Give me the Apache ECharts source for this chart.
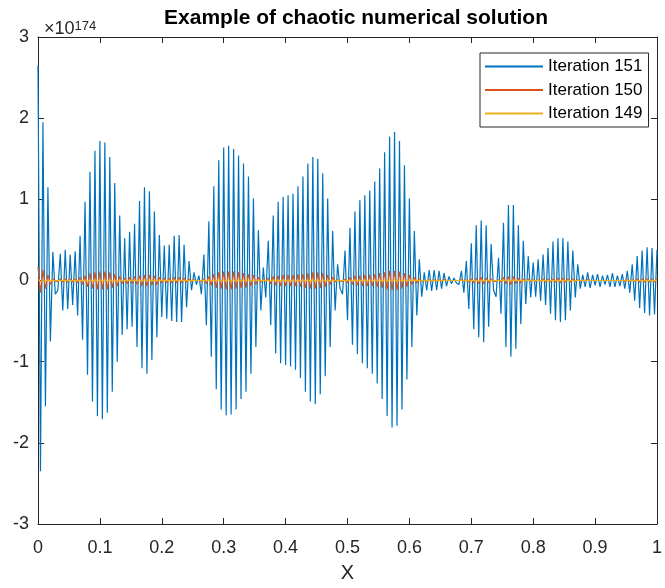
<!DOCTYPE html>
<html>
<head>
<meta charset="utf-8">
<script src="https://cdn.jsdelivr.net/npm/echarts@6/dist/echarts.min.js"></script>
<style>
html,body{margin:0;padding:0;background:#fff;}
#chart{width:665px;height:588px;}
</style>
</head>
<body>
<div id="chart"></div>
<script>
// Values in units of 1e174, sampled on a uniform grid over x in [0, 1]
var iter151 = [
 2.65,-2.35,1.95,-1.55,1.15,-0.75,0.35,-0.17,-0.12,0.33,
 -0.37,0.38,-0.35,0.32,-0.3,0.36,-0.43,0.55,-0.73,0.97,
 -1.16,1.34,-1.49,1.6,-1.67,1.72,-1.71,1.7,-1.63,1.52,
 -1.37,1.2,-1.0,0.8,-0.67,0.52,-0.6,0.6,-0.57,0.7,
 -0.82,0.98,-1.08,1.15,-1.15,1.1,-0.98,0.85,-0.7,0.56,
 -0.45,0.43,-0.47,0.44,-0.5,0.55,-0.51,0.56,-0.51,0.44,
 -0.33,0.24,-0.12,0.1,-0.05,0.06,-0.17,0.32,-0.55,0.73,
 -0.94,1.16,-1.34,1.48,-1.59,1.64,-1.66,1.66,-1.65,1.62,
 -1.59,1.54,-1.46,1.44,-1.37,1.28,-1.15,1.01,-0.82,0.62,
 -0.37,0.16,-0.21,0.49,-0.55,0.8,-0.9,0.97,-1.02,1.03,
 -1.04,1.05,-1.06,1.07,-1.1,1.16,-1.2,1.28,-1.37,1.44,
 -1.49,1.52,-1.52,1.5,-1.4,1.32,-1.18,1.01,-0.82,0.61,
 -0.37,0.2,-0.1,-0.17,0.37,-0.49,0.65,-0.79,0.85,-0.91,
 0.99,-1.02,1.05,-1.08,1.11,-1.15,1.22,-1.27,1.38,-1.46,
 1.58,-1.67,1.77,-1.81,1.83,-1.79,1.72,-1.59,1.42,-1.22,
 1.01,-0.82,0.61,-0.43,0.26,-0.2,0.1,-0.12,0.13,-0.13,
 0.13,-0.12,0.12,-0.1,0.09,-0.07,0.05,-0.04,0.03,-0.03,
 -0.05,0.12,-0.15,0.24,-0.35,0.46,-0.6,0.68,-0.7,0.74,
 -0.76,0.68,-0.57,0.45,-0.12,-0.2,0.28,-0.41,0.71,-0.82,
 0.93,-0.94,0.93,-0.84,0.68,-0.54,0.49,-0.29,0.3,-0.21,
 0.22,-0.2,0.26,-0.25,0.32,-0.3,0.4,-0.41,0.48,-0.49,
 0.52,-0.51,0.52,-0.49,0.48,-0.37,0.37,-0.21,0.2,-0.1,
 0.07,-0.08,0.1,-0.09,0.07,-0.06,0.08,-0.08,0.06,-0.05,
 0.07,-0.08,0.09,-0.08,0.06,-0.07,0.08,-0.1,0.12,-0.15,
 0.2,-0.25,0.3,-0.34,0.37,-0.4,0.41,-0.43,0.4,-0.42,0.38
];
var iter150 = [
 0.17,-0.15,0.13,-0.1,0.07,-0.05,0.02,-0.01,-0.01,0.02,
 -0.02,0.02,-0.02,0.02,-0.02,0.02,-0.03,0.04,-0.05,0.06,
 -0.08,0.09,-0.1,0.1,-0.11,0.11,-0.11,0.11,-0.11,0.1,
 -0.09,0.08,-0.07,0.05,-0.04,0.03,-0.04,0.04,-0.04,0.05,
 -0.05,0.06,-0.07,0.07,-0.07,0.07,-0.06,0.06,-0.05,0.04,
 -0.03,0.03,-0.03,0.03,-0.03,0.04,-0.03,0.04,-0.03,0.03,
 -0.02,0.02,-0.01,0.01,0,0,-0.01,0.02,-0.04,0.05,
 -0.06,0.08,-0.09,0.1,-0.1,0.11,-0.11,0.11,-0.11,0.11,
 -0.1,0.1,-0.09,0.09,-0.09,0.08,-0.07,0.07,-0.05,0.04,
 -0.02,0.01,-0.01,0.03,-0.04,0.05,-0.06,0.06,-0.07,0.07,
 -0.07,0.07,-0.07,0.07,-0.07,0.08,-0.08,0.08,-0.09,0.09,
 -0.1,0.1,-0.1,0.1,-0.09,0.09,-0.08,0.07,-0.05,0.04,
 -0.02,0.01,-0.01,-0.01,0.02,-0.03,0.04,-0.05,0.06,-0.06,
 0.06,-0.07,0.07,-0.07,0.07,-0.07,0.08,-0.08,0.09,-0.09,
 0.1,-0.11,0.12,-0.12,0.12,-0.12,0.11,-0.1,0.09,-0.08,
 0.07,-0.05,0.04,-0.03,0.02,-0.01,0.01,-0.01,0.01,-0.01,
 0.01,-0.01,0.01,-0.01,0.01,0,0,0,0,0,
 0,0.01,-0.01,0.01,-0.02,0.02,-0.03,0.03,-0.04,0.04,
 -0.04,0.03,-0.03,0.02,-0.01,-0.01,0.01,-0.02,0.04,-0.04,
 0.05,-0.05,0.05,-0.04,0.03,-0.03,0.02,-0.01,0.02,-0.01,
 0.01,-0.01,0.01,-0.01,0.02,-0.02,0.02,-0.02,0.02,-0.02,
 0.03,-0.03,0.03,-0.02,0.02,-0.02,0.02,-0.01,0.01,-0.01,
 0,0,0.01,0,0,0,0,0,0,0,
 0,0,0,0,0,0,0,-0.01,0.01,-0.01,
 0.01,-0.01,0.02,-0.02,0.02,-0.02,0.02,-0.02,0.02,-0.02,0.02
];
var iter149 = [
 0.014,-0.012,0.01,-0.008,0.006,-0.004,0.002,-0.001,-0.001,0.002,
 -0.002,0.002,-0.002,0.002,-0.002,0.002,-0.002,0.003,-0.004,0.005,
 -0.006,0.007,-0.008,0.008,-0.009,0.009,-0.009,0.009,-0.009,0.008,
 -0.007,0.006,-0.005,0.004,-0.003,0.003,-0.003,0.003,-0.003,0.004,
 -0.004,0.005,-0.006,0.006,-0.006,0.006,-0.005,0.005,-0.004,0.003,
 -0.002,0.002,-0.002,0.002,-0.002,0.003,-0.002,0.003,-0.002,0.002,
 -0.002,0.001,-0.001,0.001,0,0,-0.001,0.002,-0.003,0.004,
 -0.005,0.006,-0.007,0.008,-0.008,0.009,-0.009,0.009,-0.009,0.009,
 -0.008,0.008,-0.007,0.007,-0.007,0.006,-0.006,0.005,-0.004,0.003,
 -0.002,0.001,-0.001,0.002,-0.003,0.004,-0.005,0.005,-0.005,0.005,
 -0.005,0.005,-0.005,0.006,-0.006,0.006,-0.006,0.007,-0.007,0.007,
 -0.008,0.008,-0.008,0.008,-0.007,0.007,-0.006,0.005,-0.004,0.003,
 -0.002,0.001,-0.001,-0.001,0.002,-0.002,0.003,-0.004,0.004,-0.005,
 0.005,-0.005,0.005,-0.006,0.006,-0.006,0.006,-0.007,0.007,-0.008,
 0.008,-0.009,0.009,-0.009,0.01,-0.009,0.009,-0.008,0.007,-0.006,
 0.005,-0.004,0.003,-0.002,0.001,-0.001,0.001,-0.001,0.001,-0.001,
 0.001,-0.001,0.001,-0.001,0,0,0,0,0,0,
 0,0.001,-0.001,0.001,-0.002,0.002,-0.002,0.003,-0.003,0.003,
 -0.003,0.003,-0.002,0.002,-0.001,-0.001,0.001,-0.002,0.003,-0.003,
 0.004,-0.004,0.004,-0.003,0.003,-0.002,0.002,-0.001,0.001,-0.001,
 0.001,-0.001,0.001,-0.001,0.001,-0.001,0.002,-0.002,0.002,-0.002,
 0.002,-0.002,0.002,-0.002,0.002,-0.001,0.001,-0.001,0.001,0,
 0,0,0,0,0,0,0,0,0,0,
 0,0,0,0,0,0,0,0,0.001,-0.001,
 0.001,-0.001,0.001,-0.001,0.002,-0.002,0.002,-0.002,0.002,-0.002,0.002
];
var seriesNames = ['Iteration 151', 'Iteration 150', 'Iteration 149'];
var xTickLabels = ['0','0.1','0.2','0.3','0.4','0.5','0.6','0.7','0.8','0.9','1'];
var yTickLabels = ['-3','-2','-1','0','1','2','3'];

function toPairs(arr) {
  var step = 1 / (arr.length - 1);
  return arr.map(function (v, i) { return [i * step, v]; });
}

var AX = '#262626';
var FONT = '"Liberation Sans", Arial, Helvetica, sans-serif';
var chart = echarts.init(document.getElementById('chart'), null, {renderer: 'canvas'});
var commonX = {
  type: 'value', min: 0, max: 1, interval: 0.1,
  axisLine: {show: true, onZero: false, lineStyle: {color: AX, width: 1}},
  axisTick: {show: true, inside: true, length: 6, lineStyle: {color: AX}},
  splitLine: {show: false}
};
var commonY = {
  type: 'value', min: -3, max: 3, interval: 1,
  axisLine: {show: true, onZero: false, lineStyle: {color: AX, width: 1}},
  axisTick: {show: true, inside: true, length: 6, lineStyle: {color: AX}},
  splitLine: {show: false}
};
chart.setOption({
  animation: false,
  backgroundColor: '#fff',
  textStyle: {fontFamily: FONT},
  title: [
    {text: 'Example of chaotic numerical solution', left: 351, top: 3, textAlign: 'center',
     textStyle: {fontFamily: FONT, fontWeight: 'bold', fontSize: 21, color: '#000'}},
    {text: '×10{s|174}', left: 39, top: 15,
     textStyle: {fontFamily: FONT, fontWeight: 'normal', fontSize: 18, color: AX,
       rich: {s: {fontSize: 13, color: AX, fontFamily: FONT, verticalAlign: 'top', lineHeight: 13, padding: [0,0,10,0]}}}}
  ],
  grid: {left: 38, right: 3, top: 37, bottom: 60, containLabel: false},
  legend: {
    orient: 'vertical', left: 480, top: 53,
    padding: [5, 6, 5, 4], itemGap: 6.5, itemWidth: 58, itemHeight: 14,
    backgroundColor: '#fff', borderColor: AX, borderWidth: 1,
    itemStyle: {opacity: 0},
    textStyle: {fontFamily: FONT, fontSize: 17, color: '#000'},
    data: seriesNames
  },
  xAxis: [
    Object.assign({}, commonX, {
      position: 'bottom',
      name: 'X', nameLocation: 'middle', nameGap: 39,
      nameTextStyle: {fontFamily: FONT, fontSize: 20, color: AX},
      axisLabel: {show: true, margin: 15, fontSize: 18, fontFamily: FONT, color: AX,
        formatter: function (v) { return xTickLabels[Math.round(v * 10)]; }}
    }),
    Object.assign({}, commonX, {position: 'top', axisLabel: {show: false}})
  ],
  yAxis: [
    Object.assign({}, commonY, {
      position: 'left',
      axisLabel: {show: true, margin: 9, fontSize: 18, fontFamily: FONT, color: AX,
        formatter: function (v) { return yTickLabels[Math.round(v) + 3]; }}
    }),
    Object.assign({}, commonY, {position: 'right', axisLabel: {show: false}})
  ],
  series: [
    {name: seriesNames[0], type: 'line', data: toPairs(iter151), symbol: 'none', showSymbol: false,
     lineStyle: {color: '#0072BD', width: 1.2}, itemStyle: {color: '#0072BD', opacity: 0}, z: 2},
    {name: seriesNames[1], type: 'line', data: toPairs(iter150), symbol: 'none', showSymbol: false,
     lineStyle: {color: '#D95319', width: 1.2}, itemStyle: {color: '#D95319', opacity: 0}, z: 3},
    {name: seriesNames[2], type: 'line', data: toPairs(iter149), symbol: 'none', showSymbol: false,
     lineStyle: {color: '#EDB120', width: 1.2}, itemStyle: {color: '#EDB120', opacity: 0}, z: 4}
  ]
});
</script>
</body>
</html>
